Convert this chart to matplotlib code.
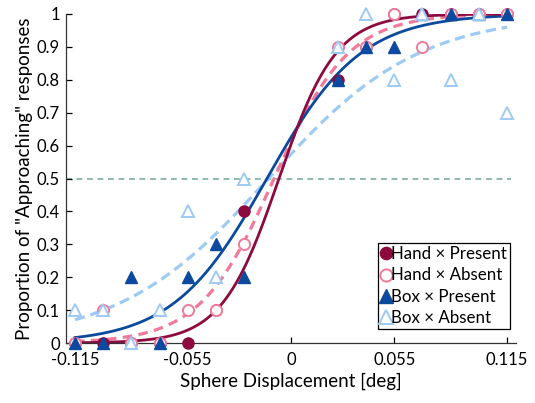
import numpy as np
import matplotlib
matplotlib.use('Agg')
import matplotlib.pyplot as plt
from matplotlib.ticker import FuncFormatter

plt.rcParams['font.family'] = ['Lato', 'DejaVu Sans']

# stimulus levels (deg)
displacement = [-0.115, -0.1, -0.085, -0.07, -0.055, -0.04, -0.025,
                0.025, 0.04, 0.055, 0.07, 0.085, 0.1, 0.115]

# proportion of "approaching" responses
hand_present = [0, 0, 0, 0, 0, 0.1, 0.4, 0.8, 0.9, 1.0, 1.0, 1.0, 1.0, 1.0]
hand_absent = [0, 0.1, 0, 0, 0.1, 0.1, 0.3, 0.9, 0.9, 1.0, 0.9, 1.0, 1.0, 1.0]
box_present = [0, 0, 0.2, 0, 0.2, 0.3, 0.2, 0.8, 0.9, 0.9, 1.0, 1.0, 1.0, 1.0]
box_absent = [0.1, 0.1, 0, 0.1, 0.4, 0.2, 0.5, 0.9, 1.0, 0.8, 1.0, 0.8, 1.0, 0.7]

# logistic fit parameters (PSE, spread)
fit_pse = {'hp': -0.0064, 'ha': -0.009, 'bp': -0.0128, 'ba': -0.012}
fit_spread = {'hp': 0.0152, 'ha': 0.0198, 'bp': 0.025, 'ba': 0.04}

labels = ['Hand × Present', 'Hand × Absent', 'Box × Present', 'Box × Absent']
xticks = [-0.115, -0.055, 0, 0.055, 0.115]

c_hp = '#8c0a3e'
c_ha = '#f07a99'
c_bp = '#0b4a9e'
c_ba = '#9ecaf4'


def logistic(x, pse, s):
    return 1.0 / (1.0 + np.exp(-(x - pse) / s))


fig = plt.figure(figsize=(5.35, 4.03), dpi=100)
ax = fig.add_axes([65.6 / 535, 1 - 343 / 403, (516.4 - 65.6) / 535, (343 - 14) / 403])

xs = np.linspace(-0.115, 0.115, 400)

ax.hlines(0.5, -0.12, 0.117, colors='#7aaea2', linewidth=1.2,
          linestyles=(0, (3.5, 2.8)), zorder=1)

ax.plot(xs, logistic(xs, fit_pse['ba'], fit_spread['ba']), color=c_ba, lw=2.3,
        dashes=(3.2, 1.8), zorder=2)
ax.plot(xs, logistic(xs, fit_pse['ha'], fit_spread['ha']), color=c_ha, lw=2.3,
        dashes=(3.0, 2.0), zorder=2)
ax.plot(xs, logistic(xs, fit_pse['bp'], fit_spread['bp']), color=c_bp, lw=2.0, zorder=2)
ax.plot(xs, logistic(xs, fit_pse['hp'], fit_spread['hp']), color=c_hp, lw=2.0, zorder=2)

ms = 8
h1, = ax.plot(displacement, hand_present, 'o', ms=ms, color=c_hp, mec=c_hp,
              clip_on=False, zorder=5, label=labels[0])
h2, = ax.plot(displacement, hand_absent, 'o', ms=ms, mfc='white', mec=c_ha, mew=1.4,
              clip_on=False, zorder=6, label=labels[1])
h3, = ax.plot(displacement, box_present, '^', ms=ms + 1, color=c_bp, mec=c_bp,
              clip_on=False, zorder=7, label=labels[2])
h4, = ax.plot(displacement, box_absent, '^', ms=ms + 1, mfc='white', mec=c_ba, mew=1.4,
              clip_on=False, zorder=8, label=labels[3])

ax.set_xlim(-0.12, 0.12)
ax.set_ylim(0, 1)
ax.set_xticks(xticks)
ax.set_yticks(np.arange(0, 1.01, 0.1))
ax.yaxis.set_major_formatter(FuncFormatter(lambda v, p: '%g' % round(v, 2)))
ax.xaxis.set_major_formatter(FuncFormatter(lambda v, p: '%g' % v))
ax.tick_params(direction='in', length=4, width=0.9, labelsize=12)
ax.tick_params(axis='x', pad=6.5)
ax.tick_params(axis='y', pad=4)
for side in ['top', 'right']:
    ax.spines[side].set_visible(False)
for side in ['left', 'bottom']:
    ax.spines[side].set_linewidth(0.9)
    ax.spines[side].set_color('#333333')

ax.set_xlabel('Sphere Displacement [deg]', fontsize=13.5, labelpad=3)
ax.set_ylabel('Proportion of "Approaching" responses', fontsize=13.5, labelpad=3)

leg = ax.legend(handles=[h1, h2, h3, h4], loc='upper left',
                bbox_to_anchor=(378 / 535, 1 - 243 / 403), bbox_transform=fig.transFigure,
                fontsize=12.2, frameon=True, fancybox=False, framealpha=1,
                edgecolor='black', borderpad=0.2, handlelength=0.5,
                handletextpad=0.05, labelspacing=0.3, borderaxespad=0,
                markerscale=1.1)
leg.get_frame().set_linewidth(0.9)
leg.set_zorder(10)

fig.savefig('out.png', dpi=100)
